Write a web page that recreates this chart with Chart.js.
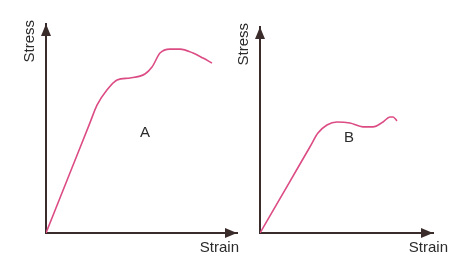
<!DOCTYPE html>
<html>
<head>
<meta charset="utf-8">
<script src="https://cdn.jsdelivr.net/npm/chart.js@4"></script>
<style>
  body { margin: 0; background: #fff; }
  .wrap { position: relative; width: 474px; height: 272px; overflow: hidden; background: #fff; }
  canvas { position: absolute; top: 0; }
  #chartA { left: 0; }
  #chartB { left: 228px; }
</style>
</head>
<body>
<div class="wrap">
  <canvas id="chartA" width="245" height="272"></canvas>
  <canvas id="chartB" width="246" height="272"></canvas>
</div>
<script>
// curve A (arbitrary units, 0-10 on both axes)
var strainA = [0, 1.3, 2.3, 2.67, 3.19, 3.72, 4.40, 5.18, 5.55, 5.97, 6.49, 7.02, 7.70, 8.22, 8.69];
var stressA = [0, 2.98, 5.27, 6.12, 6.84, 7.32, 7.42, 7.61, 7.94, 8.61, 8.80, 8.80, 8.61, 8.37, 8.13];

// curve B
var strainB = [0, 1.7, 2.9, 3.35, 3.87, 4.45, 5.20, 5.95, 6.53, 7.11, 7.51, 7.69, 7.92];
var stressB = [0, 2.46, 4.20, 4.85, 5.24, 5.39, 5.34, 5.15, 5.15, 5.39, 5.63, 5.63, 5.44];

var xTitle = "Strain";
var yTitle = "Stress";
var curveNames = ["A", "B"];
var namePosA = [5.18, 4.78];
var namePosB = [5.14, 4.61];

var AXIS_COLOR = "#3a2c2a";
var CURVE_COLOR = "#dc4c84";
var TEXT_COLOR = "#2b2b2b";
var FONT = '15px "Liberation Sans", Arial, sans-serif';

function toPoints(xs, ys) {
    var pts = [];
    for (var i = 0; i < xs.length; i++) {
        pts.push({x: xs[i], y: ys[i]});
    }
    return pts;
}

// arrow heads on the axes, axis titles and the curve name
var axisDecor = {
    id: 'axisDecor',
    afterDraw: function(chart, args, opts) {
        var ctx = chart.ctx;
        var a = chart.chartArea;
        ctx.save();
        ctx.fillStyle = AXIS_COLOR;
        ctx.beginPath();
        ctx.moveTo(a.left, a.top);
        ctx.lineTo(a.left - 5, a.top + 12);
        ctx.lineTo(a.left + 5, a.top + 12);
        ctx.closePath();
        ctx.fill();
        ctx.beginPath();
        ctx.moveTo(a.right, a.bottom);
        ctx.lineTo(a.right - 12, a.bottom - 5);
        ctx.lineTo(a.right - 12, a.bottom + 5);
        ctx.closePath();
        ctx.fill();

        ctx.fillStyle = TEXT_COLOR;
        ctx.font = FONT;
        ctx.textBaseline = 'middle';
        ctx.textAlign = 'right';
        ctx.fillText(xTitle, a.right + opts.xTitleShift, a.bottom + 15);

        ctx.textAlign = 'center';
        ctx.fillText(opts.name,
            chart.scales.x.getPixelForValue(opts.namePos[0]),
            chart.scales.y.getPixelForValue(opts.namePos[1]));

        ctx.translate(a.left - 16, a.top - 4);
        ctx.rotate(-Math.PI / 2);
        ctx.textAlign = 'right';
        ctx.fillText(yTitle, 0, 0);
        ctx.restore();
    }
};

function initCurve(canvasId, xs, ys, padding, decor) {
    return new Chart(document.getElementById(canvasId), {
        type: 'scatter',
        data: {
            datasets: [{
                data: toPoints(xs, ys),
                showLine: true,
                borderColor: CURVE_COLOR,
                borderWidth: 1.6,
                pointRadius: 0,
                cubicInterpolationMode: 'monotone'
            }]
        },
        options: {
            responsive: false,
            animation: false,
            layout: { padding: padding },
            plugins: {
                legend: { display: false },
                tooltip: { enabled: false },
                axisDecor: decor
            },
            scales: {
                x: {
                    type: 'linear',
                    min: 0,
                    max: 10,
                    grid: { display: false, drawTicks: false },
                    ticks: { display: false },
                    border: { display: true, color: AXIS_COLOR, width: 2 }
                },
                y: {
                    type: 'linear',
                    min: 0,
                    max: 10,
                    grid: { display: false, drawTicks: false },
                    ticks: { display: false },
                    border: { display: true, color: AXIS_COLOR, width: 2 }
                }
            }
        },
        plugins: [axisDecor]
    });
}

initCurve("chartA", strainA, stressA,
    { left: 46, right: 8, top: 24, bottom: 39 },
    { name: curveNames[0], namePos: namePosA, xTitleShift: 2 });

initCurve("chartB", strainB, stressB,
    { left: 32, right: 41, top: 27, bottom: 39 },
    { name: curveNames[1], namePos: namePosB, xTitleShift: 15 });
</script>
</body>
</html>
